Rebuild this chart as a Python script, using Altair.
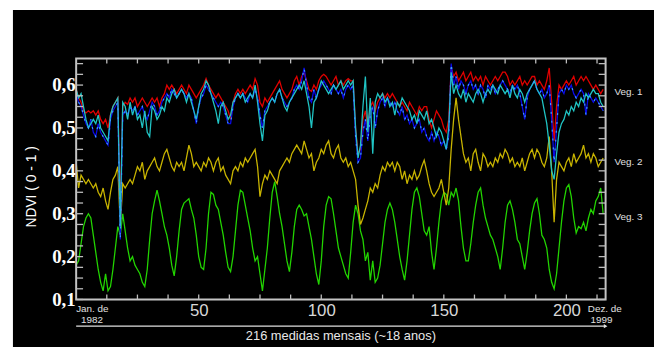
import altair as alt
import pandas as pd

# ---- data ----
months = list(range(216))

veg1_red = [
0.59,0.57,0.56,0.54,0.535,0.54,0.535,0.54,0.53,0.54,0.52,0.51,
0.52,0.50,0.53,0.55,0.56,0.57,0.30,0.55,0.56,0.555,0.57,0.56,
0.57,0.55,0.56,0.57,0.56,0.55,0.56,0.57,0.56,0.57,0.55,0.57,
0.58,0.60,0.59,0.60,0.59,0.58,0.59,0.60,0.59,0.58,0.60,0.59,
0.58,0.57,0.58,0.59,0.60,0.615,0.60,0.59,0.58,0.57,0.58,0.57,
0.56,0.55,0.54,0.52,0.56,0.58,0.59,0.58,0.59,0.58,0.59,0.60,
0.59,0.615,0.60,0.56,0.55,0.57,0.56,0.57,0.58,0.59,0.60,0.61,
0.59,0.58,0.57,0.58,0.59,0.61,0.62,0.60,0.62,0.63,0.61,0.59,
0.585,0.60,0.59,0.61,0.62,0.625,0.62,0.61,0.60,0.61,0.62,0.60,
0.61,0.60,0.61,0.615,0.61,0.61,0.50,0.44,0.45,0.52,0.54,0.50,
0.55,0.56,0.54,0.56,0.57,0.58,0.57,0.58,0.57,0.58,0.57,0.56,
0.55,0.56,0.55,0.54,0.56,0.55,0.54,0.53,0.55,0.54,0.55,0.55,
0.52,0.50,0.52,0.54,0.53,0.52,0.50,0.49,0.52,0.64,0.62,0.63,
0.61,0.62,0.63,0.61,0.62,0.63,0.61,0.62,0.61,0.62,0.60,0.62,
0.61,0.60,0.61,0.62,0.61,0.62,0.63,0.63,0.62,0.60,0.61,0.60,
0.61,0.62,0.60,0.61,0.60,0.61,0.62,0.62,0.60,0.61,0.60,0.59,
0.61,0.64,0.56,0.47,0.55,0.60,0.59,0.60,0.61,0.60,0.61,0.62,
0.60,0.61,0.62,0.61,0.62,0.61,0.60,0.59,0.60,0.59,0.58,0.59]

veg1_blue = [
0.58,0.56,0.55,0.53,0.51,0.50,0.52,0.49,0.48,0.51,0.49,0.48,
0.47,0.46,0.52,0.54,0.55,0.56,0.24,0.53,0.54,0.53,0.55,0.54,
0.55,0.53,0.54,0.55,0.53,0.52,0.54,0.56,0.55,0.53,0.54,0.56,
0.57,0.58,0.57,0.59,0.58,0.57,0.58,0.59,0.58,0.57,0.58,0.57,
0.54,0.51,0.55,0.57,0.58,0.60,0.59,0.58,0.57,0.56,0.55,0.56,
0.55,0.53,0.51,0.51,0.55,0.57,0.58,0.57,0.58,0.57,0.56,0.58,
0.57,0.59,0.57,0.53,0.50,0.54,0.55,0.56,0.57,0.56,0.58,0.59,
0.57,0.56,0.55,0.56,0.57,0.59,0.60,0.59,0.61,0.64,0.60,0.57,
0.56,0.59,0.57,0.59,0.60,0.61,0.60,0.59,0.58,0.60,0.59,0.58,
0.59,0.57,0.59,0.60,0.59,0.60,0.48,0.42,0.43,0.49,0.52,0.47,
0.53,0.55,0.50,0.54,0.56,0.57,0.55,0.57,0.56,0.55,0.56,0.54,
0.53,0.55,0.52,0.53,0.51,0.52,0.50,0.51,0.52,0.49,0.50,0.48,
0.47,0.49,0.47,0.49,0.48,0.46,0.47,0.45,0.48,0.65,0.60,0.62,
0.59,0.61,0.60,0.58,0.60,0.61,0.59,0.60,0.58,0.60,0.59,0.57,
0.60,0.59,0.60,0.58,0.59,0.60,0.61,0.60,0.59,0.58,0.60,0.59,
0.60,0.58,0.55,0.52,0.57,0.59,0.60,0.61,0.59,0.58,0.59,0.57,
0.58,0.60,0.52,0.42,0.50,0.58,0.59,0.58,0.60,0.59,0.60,0.58,
0.57,0.58,0.59,0.58,0.53,0.58,0.57,0.56,0.57,0.56,0.55,0.54]

veg1_cyan = [
0.59,0.57,0.58,0.55,0.52,0.50,0.51,0.52,0.51,0.53,0.50,0.49,
0.48,0.47,0.53,0.55,0.56,0.57,0.27,0.56,0.55,0.52,0.56,0.53,
0.55,0.52,0.53,0.50,0.54,0.49,0.48,0.55,0.54,0.52,0.53,0.55,
0.54,0.57,0.56,0.58,0.59,0.57,0.58,0.59,0.58,0.56,0.58,0.56,
0.54,0.52,0.55,0.58,0.59,0.61,0.60,0.58,0.56,0.54,0.51,0.55,
0.56,0.54,0.52,0.53,0.56,0.57,0.58,0.57,0.58,0.56,0.57,0.58,
0.57,0.60,0.56,0.51,0.47,0.53,0.54,0.56,0.57,0.56,0.58,0.59,
0.57,0.55,0.54,0.56,0.57,0.58,0.59,0.60,0.59,0.61,0.58,0.55,
0.50,0.56,0.57,0.59,0.61,0.60,0.59,0.58,0.59,0.60,0.59,0.60,
0.61,0.59,0.60,0.61,0.60,0.61,0.50,0.43,0.46,0.55,0.62,0.49,
0.57,0.44,0.56,0.58,0.57,0.58,0.56,0.57,0.55,0.56,0.53,0.56,
0.55,0.57,0.56,0.55,0.54,0.52,0.53,0.51,0.54,0.53,0.52,0.54,
0.51,0.52,0.50,0.48,0.50,0.49,0.47,0.45,0.50,0.63,0.58,0.60,
0.58,0.57,0.59,0.56,0.58,0.57,0.56,0.58,0.59,0.58,0.56,0.58,
0.59,0.58,0.60,0.59,0.58,0.60,0.59,0.58,0.59,0.57,0.60,0.58,
0.57,0.59,0.58,0.56,0.58,0.59,0.60,0.61,0.59,0.58,0.57,0.54,
0.51,0.46,0.40,0.38,0.44,0.49,0.51,0.52,0.54,0.53,0.55,0.54,
0.56,0.55,0.57,0.56,0.58,0.57,0.58,0.59,0.58,0.58,0.56,0.55]

veg2_yellow = [
0.42,0.36,0.39,0.38,0.37,0.38,0.37,0.36,0.37,0.35,0.34,0.36,
0.33,0.31,0.35,0.38,0.39,0.41,0.27,0.37,0.36,0.37,0.38,0.37,
0.39,0.41,0.40,0.42,0.38,0.40,0.41,0.42,0.43,0.41,0.40,0.42,
0.44,0.45,0.43,0.41,0.40,0.42,0.41,0.42,0.40,0.43,0.46,0.44,
0.41,0.42,0.41,0.40,0.42,0.41,0.43,0.42,0.40,0.42,0.43,0.40,
0.41,0.39,0.38,0.37,0.40,0.41,0.40,0.42,0.41,0.43,0.42,0.43,
0.44,0.45,0.41,0.34,0.37,0.39,0.38,0.40,0.39,0.38,0.37,0.40,
0.41,0.42,0.43,0.42,0.44,0.45,0.46,0.45,0.44,0.47,0.45,0.43,
0.44,0.40,0.42,0.43,0.45,0.44,0.46,0.47,0.44,0.43,0.45,0.46,
0.43,0.42,0.43,0.41,0.42,0.40,0.38,0.32,0.275,0.29,0.31,0.33,
0.36,0.35,0.37,0.36,0.39,0.41,0.40,0.42,0.41,0.42,0.40,0.42,
0.41,0.38,0.40,0.37,0.39,0.38,0.40,0.38,0.39,0.41,0.425,0.40,
0.37,0.35,0.34,0.35,0.36,0.38,0.35,0.32,0.36,0.45,0.52,0.57,
0.52,0.48,0.44,0.42,0.43,0.40,0.44,0.45,0.42,0.40,0.44,0.43,
0.41,0.42,0.41,0.43,0.42,0.44,0.43,0.45,0.44,0.42,0.43,0.41,
0.42,0.41,0.43,0.40,0.42,0.44,0.45,0.43,0.45,0.44,0.42,0.41,
0.43,0.48,0.40,0.28,0.38,0.42,0.41,0.40,0.42,0.43,0.41,0.44,
0.42,0.43,0.44,0.46,0.43,0.44,0.42,0.44,0.43,0.41,0.42,0.43]

veg3_green = [
0.18,0.19,0.23,0.27,0.29,0.30,0.29,0.25,0.21,0.17,0.14,0.12,
0.16,0.12,0.13,0.17,0.22,0.27,0.25,0.30,0.26,0.22,0.19,0.20,
0.18,0.17,0.16,0.14,0.13,0.17,0.24,0.30,0.33,0.355,0.33,0.30,
0.27,0.25,0.22,0.18,0.155,0.20,0.26,0.31,0.325,0.33,0.335,0.31,
0.29,0.25,0.20,0.175,0.17,0.22,0.30,0.35,0.345,0.32,0.31,0.28,
0.25,0.21,0.175,0.165,0.20,0.26,0.32,0.355,0.35,0.32,0.29,0.26,
0.22,0.19,0.20,0.16,0.12,0.17,0.22,0.29,0.35,0.375,0.34,0.30,
0.27,0.23,0.19,0.165,0.21,0.27,0.31,0.32,0.31,0.295,0.30,0.27,
0.24,0.20,0.16,0.135,0.19,0.27,0.32,0.34,0.335,0.30,0.26,0.22,
0.20,0.18,0.16,0.15,0.21,0.28,0.32,0.30,0.26,0.24,0.19,0.21,
0.145,0.19,0.14,0.15,0.18,0.23,0.28,0.31,0.325,0.31,0.28,0.24,
0.20,0.17,0.145,0.19,0.25,0.31,0.35,0.36,0.34,0.30,0.26,0.25,
0.27,0.21,0.17,0.22,0.28,0.33,0.35,0.345,0.32,0.35,0.34,0.36,
0.33,0.27,0.22,0.19,0.19,0.23,0.28,0.32,0.35,0.36,0.32,0.29,
0.27,0.25,0.24,0.22,0.20,0.17,0.22,0.28,0.32,0.33,0.31,0.28,
0.24,0.23,0.20,0.17,0.21,0.26,0.30,0.325,0.335,0.30,0.25,0.24,
0.22,0.17,0.14,0.125,0.16,0.22,0.28,0.33,0.36,0.368,0.34,0.29,
0.255,0.27,0.265,0.28,0.26,0.29,0.31,0.30,0.33,0.34,0.36,0.30]

y_labels = [0.1, 0.2, 0.3, 0.4, 0.5, 0.6]
y_minor = [0.1 + 0.025 * k for k in range(23)]
x_labels = [50, 100, 150, 200]
x_minor = [12.5 * k for k in range(1, 18)]
veg_names = ["Veg. 1", "Veg. 2", "Veg. 3"]
veg_pos = [0.584, 0.42, 0.293]

W, H = 536, 244
X_DOM = [0, 216]
Y_DOM = [0.1, 0.662]

xs = alt.Scale(domain=X_DOM, nice=False, zero=False)
ys = alt.Scale(domain=Y_DOM, nice=False, zero=False)

dummy = pd.DataFrame({"a": [0]})

bg = alt.Chart(dummy).mark_rect(color="black").encode(
    x=alt.value(-64), x2=alt.value(W + 49), y=alt.value(-49), y2=alt.value(H + 48))

frame = alt.Chart(dummy).mark_rect(
    filled=False, stroke="#c4c4c4", strokeWidth=2, fill=None).encode(
    x=alt.value(0), x2=alt.value(W), y=alt.value(0), y2=alt.value(H))


def line(vals, color, dash=None, width=1.3):
    df = pd.DataFrame({"i": months, "v": vals})
    kw = dict(color=color, strokeWidth=width, clip=True)
    if dash:
        kw["strokeDash"] = dash
    return alt.Chart(df).mark_line(**kw).encode(
        x=alt.X("i:Q", scale=xs, axis=alt.Axis(
            values=x_labels, title=None, tickSize=0, domain=False, grid=False,
            labelFontSize=17, labelColor="#d8d8d8", labelFont="Liberation Sans",
            labelPadding=3, zindex=2)),
        y=alt.Y("v:Q", scale=ys, axis=alt.Axis(
            values=y_labels, title=None, tickSize=0, domain=False, grid=False,
            labelFontSize=19, labelColor="white", labelFont="Liberation Serif",
            labelFontWeight="bold", labelPadding=1, zindex=2,
            labelExpr="replace(format(datum.value, '.1f'), '.', ',')")),
    )


lines = [
    line(veg3_green, "#22d400"),
    line(veg2_yellow, "#c8b400"),
    line(veg1_red, "#e00000"),
    line(veg1_blue, "#0a0ae6"),
    line(veg1_cyan, "#20c4c4"),
    line(veg1_blue, "#3a9cff", dash=[2, 7], width=1.2),
]

# frame tick marks (inward)
ydf = pd.DataFrame({"y": y_minor})
left_ticks = alt.Chart(ydf).mark_rule(color="#bdbdbd", strokeWidth=1.3).encode(
    y="y:Q", x=alt.value(0), x2=alt.value(7))
right_ticks = alt.Chart(ydf).mark_rule(color="#bdbdbd", strokeWidth=1.3).encode(
    y="y:Q", x=alt.value(W - 7), x2=alt.value(W))
xdf = pd.DataFrame({"x": x_minor})
bottom_ticks = alt.Chart(xdf).mark_rule(color="#bdbdbd", strokeWidth=1.3).encode(
    x="x:Q", y=alt.value(H - 5), y2=alt.value(H))
top_ticks = alt.Chart(xdf).mark_rule(color="#bdbdbd", strokeWidth=1.3).encode(
    x="x:Q", y=alt.value(0), y2=alt.value(5))

# veg labels on the right
vdf = pd.DataFrame({"name": veg_names, "y": veg_pos})
veg_text = alt.Chart(vdf).mark_text(
    align="left", baseline="middle", color="#e0e0e0", fontSize=10,
    font="Liberation Sans").encode(x=alt.value(W + 9), y="y:Q", text="name:N")


def small(txt, x, y, align="left"):
    return alt.Chart(dummy).mark_text(
        align=align, baseline="middle", color="#e0e0e0", fontSize=10,
        font="Liberation Sans").encode(
        x=alt.value(x), y=alt.value(y), text=alt.value(txt))


jan1 = small("Jan. de", 0, H + 10)
jan2 = small("1982", 5, H + 21)
dez1 = small("Dez. de", W - 18, H + 10)
dez2 = small("1999", W + 7, H + 21, align="right")

arrow_line = alt.Chart(dummy).mark_rule(color="#e0e0e0", strokeWidth=1.2).encode(
    x=alt.datum(0), x2=alt.datum(216), y=alt.value(H + 27))
arrow_head = alt.Chart(dummy).mark_point(
    shape="triangle-right", filled=True, color="#e0e0e0", size=18, opacity=1).encode(
    x=alt.datum(216), y=alt.value(H + 27))
xtitle = alt.Chart(dummy).mark_text(
    align="center", baseline="middle", color="#e8e8e8", fontSize=13,
    font="Liberation Sans").encode(
    x=alt.datum(108), y=alt.value(H + 37), text=alt.value("216 medidas mensais (~18 anos)"))
ytitle = alt.Chart(dummy).mark_text(
    align="center", baseline="middle", color="white", fontSize=14, angle=270,
    font="Liberation Sans").encode(
    x=alt.value(-45), y=alt.value(130), text=alt.value("NDVI ( 0 - 1 )"))

chart = alt.layer(
    bg, *lines, frame, left_ticks, right_ticks, bottom_ticks, top_ticks,
    veg_text, jan1, jan2, dez1, dez2, arrow_line, arrow_head, xtitle, ytitle,
).properties(
    width=W, height=H,
    padding={"left": 69, "top": 49, "right": 49, "bottom": 48},
    autosize=alt.AutoSizeParams(type="none"),
).configure(background="white").configure_view(stroke=None)

chart.save("out.html", embed_options={"renderer": "svg", "actions": False})
